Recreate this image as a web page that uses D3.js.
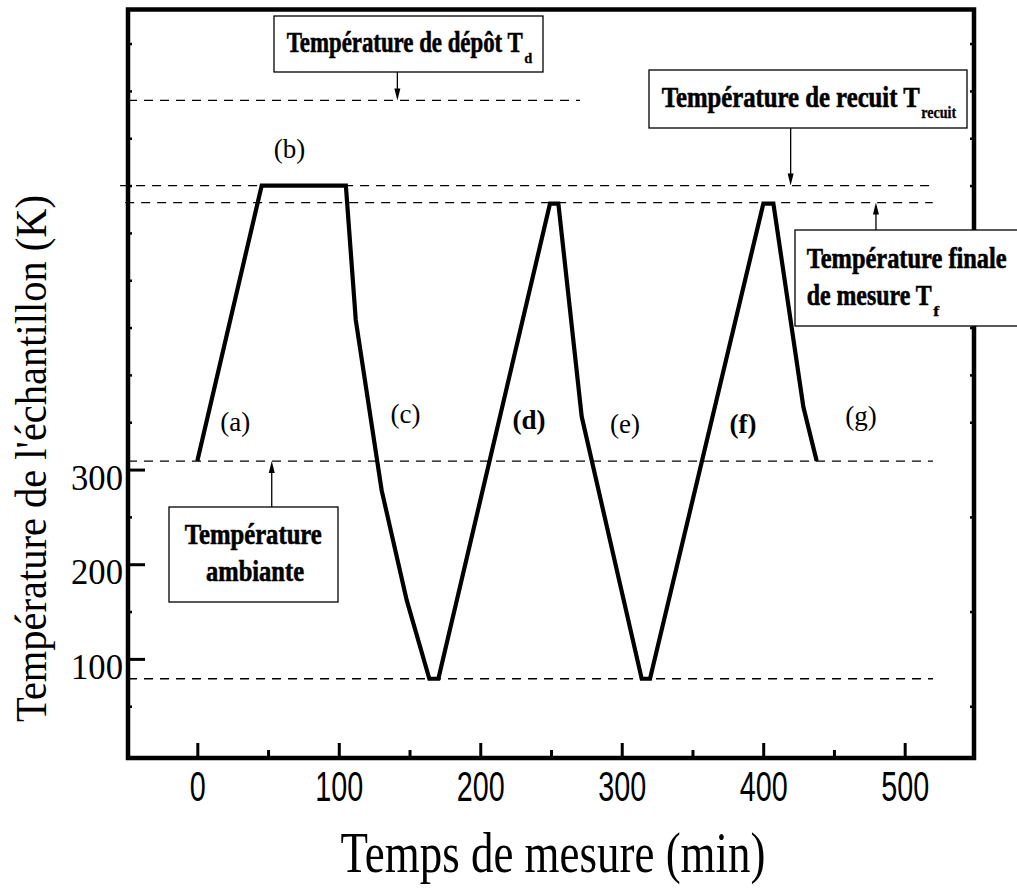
<!DOCTYPE html>
<html>
<head>
<meta charset="utf-8">
<script src="https://cdn.jsdelivr.net/npm/d3@7"></script>
<style>
  html, body { margin: 0; padding: 0; background: #fff; }
  svg { display: block; }
</style>
</head>
<body>
<svg id="chart" width="1017" height="889"></svg>
<script>
// Sample temperature during one measurement run (time in min, temperature in K)
const times = [0, 45.5, 105, 112, 130.3, 148, 164, 170.4, 249.3, 255.2, 271.7, 314.1, 320, 400.1, 407.2, 428.4, 437.8];
const temps = [309, 600, 600, 458, 278, 162, 79, 79, 581, 581, 356, 79, 79, 581, 581, 366, 309];

// Reference temperature levels (dashed lines) and their time span
const refNames  = ["Td", "Trecuit", "Tf", "Tambiante", "Tazote"];
const refTemps  = [690, 600, 582, 309, 79];
const refStart  = [-49, -54.6, -51, -49, -49];
const refEnd    = [270.5, 517.4, 519.8, 520, 520];

// Phase labels of the cycle
const phaseLabels = ["(a)", "(b)", "(c)", "(d)", "(e)", "(f)", "(g)"];
const phaseTimes  = [26.8, 65.1, 147.2, 234.5, 302.3, 385.7, 469.1];
const phaseTemps  = [341, 629, 349, 343, 339, 339, 347];
const phaseBold   = [false, false, false, true, false, true, false];

// Axis ticks
const xTicks = [0, 100, 200, 300, 400, 500];
const xMinorTicks = [50, 150, 250, 350, 450];
const yTicks = [100, 200, 300];
const yMinorTicks = d3.range(50, 751, 50).filter(v => !yTicks.includes(v));

const SERIF = "'Liberation Serif', 'Times New Roman', serif";
const SANS = "'Liberation Sans', Arial, sans-serif";

const svg = d3.select("#chart");

const x = d3.scaleLinear().domain([-49, 549]).range([128, 974]);
const y = d3.scaleLinear().domain([-4.7, 786]).range([758, 9.5]);

// Dashed reference levels
const gRef = svg.append("g");
refTemps.forEach((v, i) => {
  gRef.append("line")
    .attr("x1", x(refStart[i])).attr("x2", x(refEnd[i]))
    .attr("y1", y(v)).attr("y2", y(v))
    .attr("stroke", "#000").attr("stroke-width", 1.3)
    .attr("stroke-dasharray", "9,7");
});

// Temperature profile
const line = d3.line().x((d, i) => x(times[i])).y((d, i) => y(temps[i]));
svg.append("path")
  .datum(times)
  .attr("d", line)
  .attr("fill", "none")
  .attr("stroke", "#000")
  .attr("stroke-width", 4.2)
  .attr("stroke-linejoin", "miter");

// Axes
const xAxis = svg.append("g").attr("transform", `translate(0,${y.range()[0]})`)
  .call(d3.axisBottom(x).tickValues(xTicks).tickSize(-15).tickPadding(13).tickFormat(d3.format("d")));
xAxis.select(".domain").remove();
xAxis.selectAll(".tick line").attr("stroke-width", 3);
xAxis.selectAll(".tick text")
  .attr("font-family", SANS).attr("font-size", 42)
  .attr("textLength", d => String(d).length * 16)
  .attr("lengthAdjust", "spacingAndGlyphs");

const xMinor = svg.append("g").attr("transform", `translate(0,${y.range()[0]})`)
  .call(d3.axisBottom(x).tickValues(xMinorTicks).tickSize(-8).tickFormat(""));
xMinor.select(".domain").remove();
xMinor.selectAll(".tick line").attr("stroke-width", 3);

const yAxis = svg.append("g").attr("transform", `translate(${x.range()[0]},0)`)
  .call(d3.axisLeft(y).tickValues(yTicks).tickSize(-17).tickPadding(5).tickFormat(d3.format("d")));
yAxis.select(".domain").remove();
yAxis.selectAll(".tick line").attr("stroke-width", 3);
yAxis.selectAll(".tick text")
  .attr("font-family", SERIF).attr("font-size", 35)
  .attr("dy", "0.56em")
  .attr("textLength", 52).attr("lengthAdjust", "spacingAndGlyphs");

const yMinorL = svg.append("g").attr("transform", `translate(${x.range()[0]},0)`)
  .call(d3.axisLeft(y).tickValues(yMinorTicks).tickSize(-4).tickFormat(""));
yMinorL.select(".domain").remove();
yMinorL.selectAll(".tick line").attr("stroke-width", 2.5);

const yMinorR = svg.append("g").attr("transform", `translate(${x.range()[1]},0)`)
  .call(d3.axisRight(y).tickValues(yMinorTicks).tickSize(-4).tickFormat(""));
yMinorR.select(".domain").remove();
yMinorR.selectAll(".tick line").attr("stroke-width", 2.5);

// Plot frame
svg.append("rect")
  .attr("x", x.range()[0]).attr("y", y.range()[1])
  .attr("width", x.range()[1] - x.range()[0])
  .attr("height", y.range()[0] - y.range()[1])
  .attr("fill", "none").attr("stroke", "#000").attr("stroke-width", 4.5);

// Phase labels
phaseLabels.forEach((s, i) => {
  svg.append("text")
    .attr("x", x(phaseTimes[i])).attr("y", y(phaseTemps[i]))
    .attr("text-anchor", "middle")
    .attr("font-family", SERIF).attr("font-size", 27)
    .attr("font-weight", phaseBold[i] ? "bold" : "normal")
    .text(s);
});

// Annotation boxes
function box(x0, y0, x1, y1) {
  svg.append("rect").attr("x", x0).attr("y", y0)
    .attr("width", x1 - x0).attr("height", y1 - y0)
    .attr("fill", "#fff").attr("stroke", "#000").attr("stroke-width", 1.3);
}
// Bold serif label; an optional subscript is set as a lowered, smaller tspan
function txt(s, px, py, size, len, anchor, sub, subSize, subLen) {
  const t = svg.append("text").attr("x", px).attr("y", py)
    .attr("font-family", SERIF).attr("font-weight", "bold")
    .attr("stroke", "#000").attr("stroke-width", 0.6)
    .attr("text-anchor", anchor || "start");
  const main = t.append("tspan").attr("font-size", size).text(s);
  if (len) main.attr("textLength", len).attr("lengthAdjust", "spacingAndGlyphs");
  if (sub) {
    const st = t.append("tspan").attr("font-size", subSize)
      .attr("dx", 1.5).attr("dy", 11).attr("stroke-width", 0.3).text(sub);
    if (subLen) st.attr("textLength", subLen).attr("lengthAdjust", "spacingAndGlyphs");
  }
  return t;
}
function arrow(t, fromY, toY) {
  const ax = x(t);
  const dir = toY > fromY ? 1 : -1;
  svg.append("line").attr("x1", ax).attr("x2", ax).attr("y1", fromY).attr("y2", toY - dir * 6)
    .attr("stroke", "#000").attr("stroke-width", 1.3);
  svg.append("path")
    .attr("d", `M${ax},${toY} L${ax - 3},${toY - dir * 12} L${ax + 3},${toY - dir * 12} Z`)
    .attr("fill", "#000");
}

// Deposition temperature
box(274, 16, 543, 72);
txt("Température de dépôt T", 286.7, 51.7, 30, 236, "start", "d", 15, 8);
arrow(141.4, 72, y(refTemps[0]));

// Annealing temperature
box(649, 70, 967, 128);
txt("Température de recuit T", 661.7, 106.7, 30, 258, "start", "recuit", 17, 35);
arrow(419.4, 128, y(refTemps[1]));

// Final measurement temperature
box(795, 230, 1030, 326);
txt("Température finale", 806.7, 268.3, 30, 200);
txt("de mesure T", 806.7, 304.5, 30, 125, "start", "f", 15, 6);
arrow(479.7, 230, y(refTemps[2]));

// Room temperature
box(169, 507, 338, 602);
txt("Température", 253.3, 544, 30, 137, "middle");
txt("ambiante", 255, 581, 30, 98, "middle");
arrow(52.6, 507, y(refTemps[3]));

// Axis titles
svg.append("text")
  .attr("x", 553).attr("y", 872)
  .attr("text-anchor", "middle")
  .attr("font-family", SERIF).attr("font-size", 57)
  .attr("textLength", 425).attr("lengthAdjust", "spacingAndGlyphs")
  .text("Temps de mesure (min)");

svg.append("text")
  .attr("transform", "translate(46,458.5) rotate(-90)")
  .attr("text-anchor", "middle")
  .attr("font-family", SERIF).attr("font-size", 45)
  .attr("textLength", 527).attr("lengthAdjust", "spacingAndGlyphs")
  .text("Température de l'échantillon (K)");
</script>
</body>
</html>
